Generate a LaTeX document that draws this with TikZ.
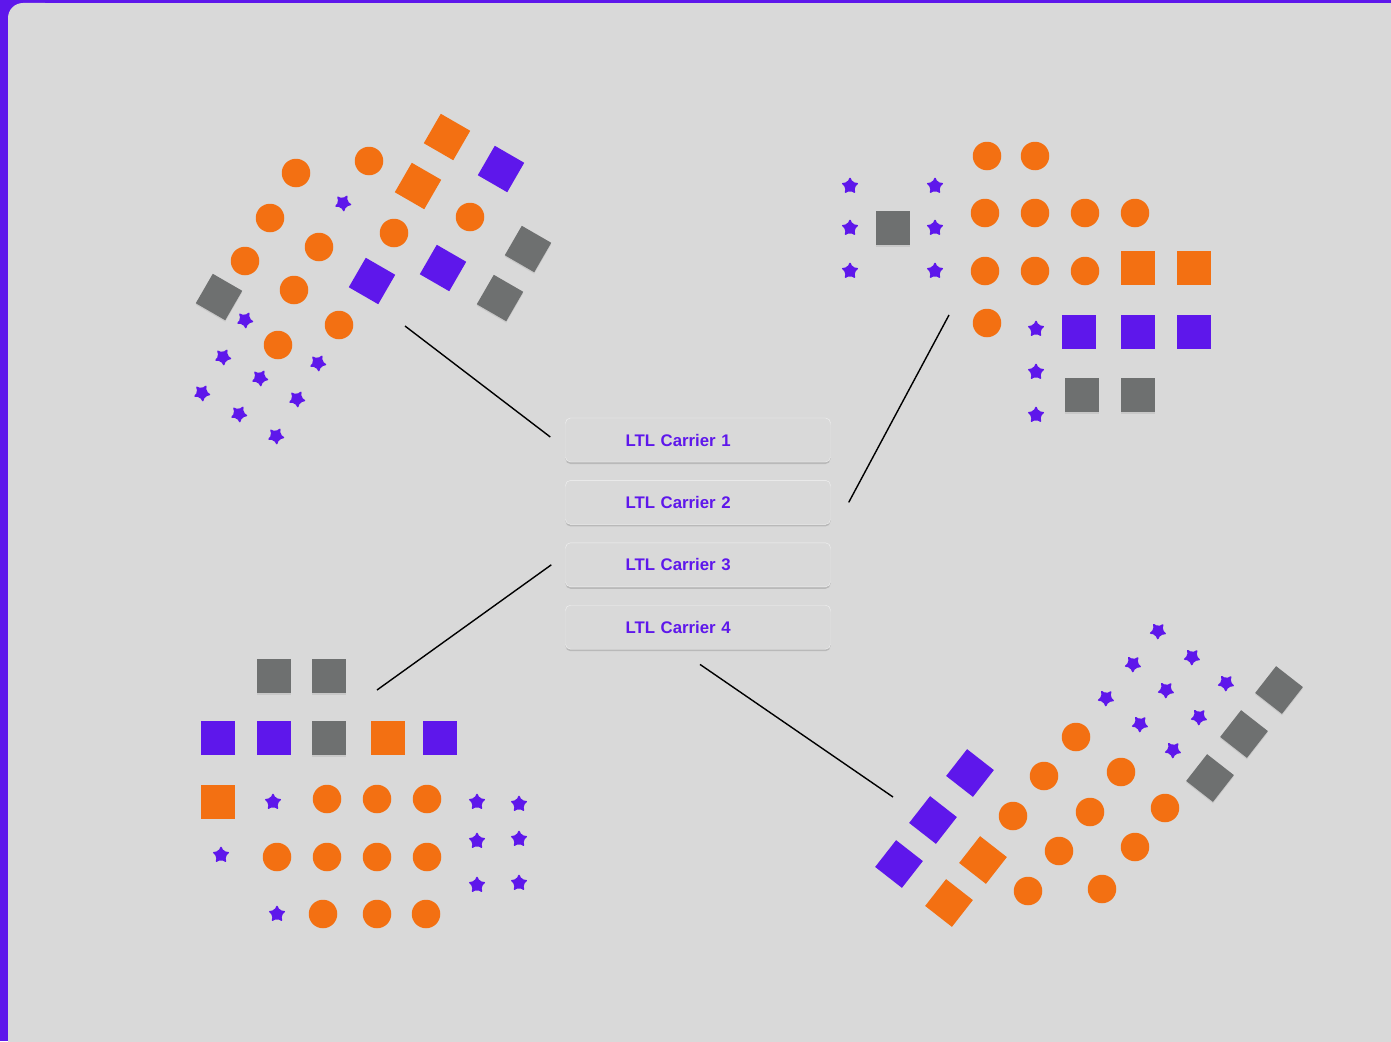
\documentclass[tikz,border=0pt]{standalone}
\usepackage{fontspec}
\setmainfont{Liberation Sans}
\usetikzlibrary{shapes.geometric,shadows,positioning}

\definecolor{pagebg}{RGB}{217,217,217}
\definecolor{ltlpurple}{RGB}{94,23,235}
\definecolor{ltlorange}{RGB}{243,112,18}
\definecolor{ltlgray}{RGB}{110,112,112}

\tikzset{
  dot/.style={circle, fill=ltlorange, minimum size=28.5pt, inner sep=0pt},
  crate/.style={fill=#1, minimum size=34pt, inner sep=0pt},
  graycrate/.style={crate=ltlgray, drop shadow={opacity=0.18, shadow xshift=0pt, shadow yshift=-1.5pt}},
  flower/.style={star, star points=5, star point ratio=2.1, fill=ltlpurple, minimum size=19pt, inner sep=0pt, rounded corners=2pt},
  carrier/.style={fill=pagebg, draw=black!5, line width=0.4pt, rounded corners=5pt,
    minimum width=265pt, minimum height=44pt, inner xsep=0pt, text width=145pt, align=left,
    text=ltlpurple, font=\fontsize{16.8}{19}\selectfont\bfseries,
    drop shadow={opacity=0.35, shadow xshift=0pt, shadow yshift=-2pt}},
  link/.style={draw=black, line width=1.4pt}
}

\begin{document}
\begin{tikzpicture}[x=1pt, y=-1pt]
\useasboundingbox (0,0) rectangle (1391,1041);
\fill[ltlpurple] (0,0) rectangle (1391,1041);
\fill[pagebg] (30,3) rectangle (1395,1045);
\fill[pagebg, rounded corners=15pt] (8,3) rectangle (60,1060);

\node[carrier] (c1) at (698,440) {LTL Carrier 1};
\node[carrier, below=18pt of c1] (c2) {LTL Carrier 2};
\node[carrier, below=18pt of c2] (c3) {LTL Carrier 3};
\node[carrier, below=18pt of c3] (c4) {LTL Carrier 4};

\foreach \x/\y [count=\i] in {296/173,369/161,270/218,394/233,470/217,319/247,245/261,294/290,339/325,278/345} {
  \node[dot] (tl-d\i) at (\x,\y) {};
}
\foreach \x/\y/\c [count=\i] in {447/137/ltlorange,418/186/ltlorange,501/169/ltlpurple,443/268/ltlpurple,372/281/ltlpurple} {
  \node[crate=\c, rotate=-30] (tl-s\i) at (\x,\y) {};
}
\foreach \x/\y [count=\i] in {528/249,500/298,219/297} {
  \node[graycrate, rotate=-30] (tl-g\i) at (\x,\y) {};
}
\foreach \x/\y [count=\i] in {343/203,245/320,223/357,318/363,260/378,202/393,297/399,239/414,276/436} {
  \node[flower, rotate=-30] (tl-f\i) at (\x,\y) {};
}

\foreach \x/\y [count=\i] in {987/156,1035/156,985/213,1035/213,1085/213,1135/213,985/271,1035/271,1085/271,987/323} {
  \node[dot] (tr-d\i) at (\x,\y) {};
}
\foreach \x/\y/\c [count=\i] in {1138/268/ltlorange,1194/268/ltlorange,1079/332/ltlpurple,1138/332/ltlpurple,1194/332/ltlpurple} {
  \node[crate=\c] (tr-s\i) at (\x,\y) {};
}
\foreach \x/\y [count=\i] in {893/228,1082/395,1138/395} {
  \node[graycrate] (tr-g\i) at (\x,\y) {};
}
\foreach \x/\y [count=\i] in {850/186,935/186,850/228,935/228,850/271,935/271,1036/329,1036/372,1036/415} {
  \node[flower] (tr-f\i) at (\x,\y) {};
}

\foreach \x/\y [count=\i] in {327/799,377/799,427/799,277/857,327/857,377/857,427/857,323/914,377/914,426/914} {
  \node[dot] (bl-d\i) at (\x,\y) {};
}
\foreach \x/\y/\c [count=\i] in {218/738/ltlpurple,274/738/ltlpurple,440/738/ltlpurple,388/738/ltlorange,218/802/ltlorange} {
  \node[crate=\c] (bl-s\i) at (\x,\y) {};
}
\foreach \x/\y [count=\i] in {274/676,329/676,329/738} {
  \node[graycrate] (bl-g\i) at (\x,\y) {};
}
\foreach \x/\y [count=\i] in {273/802,477/802,519/804,221/855,477/841,519/839,277/914,477/885,519/883} {
  \node[flower] (bl-f\i) at (\x,\y) {};
}

\foreach \x/\y [count=\i] in {1076/737,1044/776,1121/772,1013/816,1090/812,1165/808,1059/851,1135/847,1028/891,1102/889} {
  \node[dot] (br-d\i) at (\x,\y) {};
}
\foreach \x/\y/\c [count=\i] in {970/773/ltlpurple,933/820/ltlpurple,899/864/ltlpurple,983/860/ltlorange,949/903/ltlorange} {
  \node[crate=\c, rotate=-38] (br-s\i) at (\x,\y) {};
}
\foreach \x/\y [count=\i] in {1279/690,1244/734,1210/778} {
  \node[graycrate, rotate=-38] (br-g\i) at (\x,\y) {};
}
\foreach \x/\y [count=\i] in {1158/631,1133/664,1192/657,1106/698,1166/690,1226/683,1140/724,1199/717,1173/750} {
  \node[flower, rotate=-38] (br-f\i) at (\x,\y) {};
}

\coordinate (tl-end) at (405,326);
\coordinate (tr-end) at (949,315);
\coordinate (bl-end) at (377,690);
\coordinate (br-end) at (893,797);

\draw[link] (tl-end) -- ([xshift=-15pt,yshift=3pt]c1.west);
\draw[link] (tr-end) -- ([xshift=18pt]c2.east);
\draw[link] ([xshift=-14pt]c3.west) -- (bl-end);
\draw[link] ([xshift=2pt,yshift=-15pt]c4.south) -- (br-end);
\end{tikzpicture}
\end{document}
